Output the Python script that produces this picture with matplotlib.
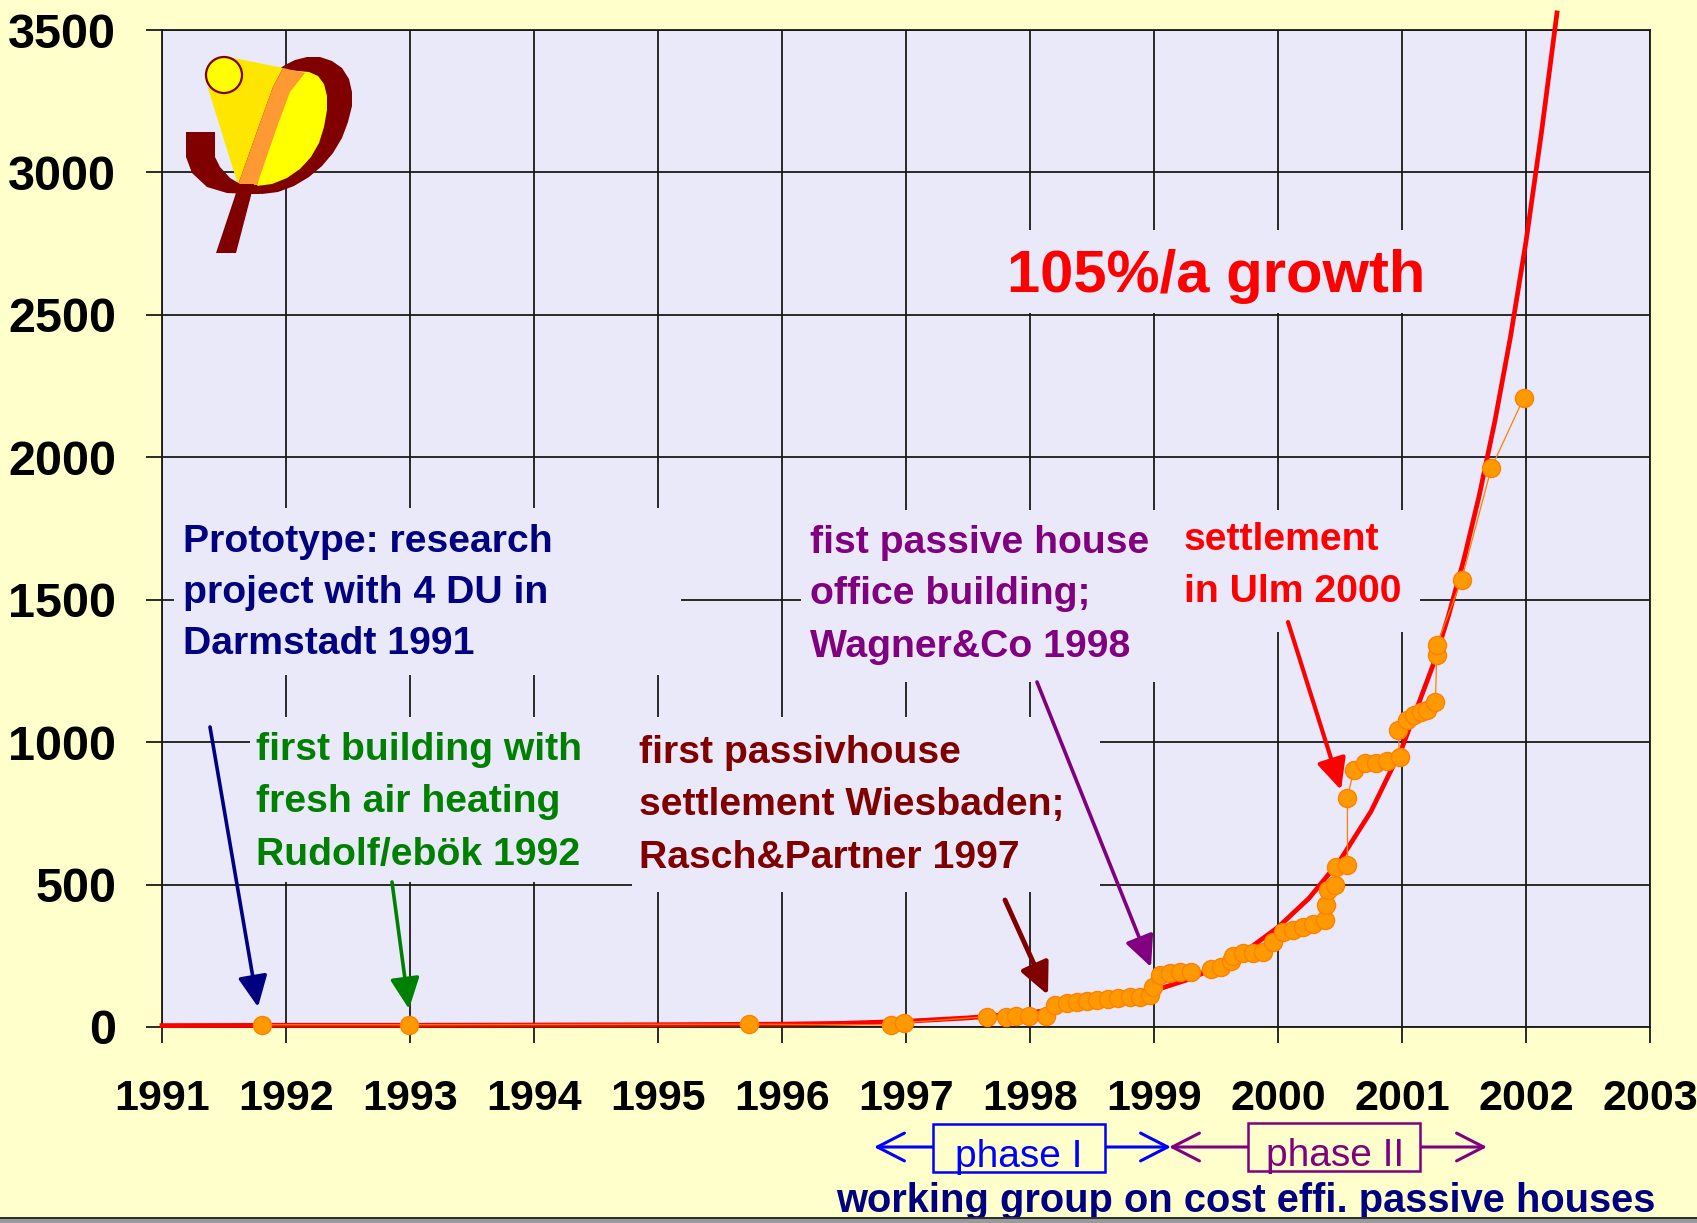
import matplotlib
matplotlib.use('Agg')
import matplotlib.pyplot as plt
from matplotlib.transforms import Affine2D
from matplotlib.patches import Rectangle, Polygon, Circle

# ---------------- data ----------------
x_ticks = list(range(1991, 2004))
y_ticks = list(range(0, 3501, 500))

# red growth curve
curve_years = [1991.0, 1992.0, 1993.0, 1994.0, 1995.0, 1996.0, 1996.5, 1997.0, 1997.5,
               1998.0, 1998.5, 1999.0, 1999.25, 1999.5, 1999.75, 2000.0, 2000.25, 2000.5,
               2000.75, 2001.0, 2001.25, 2001.375, 2001.5, 2001.625, 2001.75, 2001.875,
               2002.0, 2002.125, 2002.25]
curve_vals = [5, 6, 6, 7, 8, 10, 13, 20, 32,
              50, 80, 128, 163, 208, 270, 350, 452, 585,
              757, 980, 1270, 1444, 1643, 1870, 2129, 2423,
              2757, 3141, 3560]

# cumulative number of passive houses (orange points)
pt_years = [1991.81, 1992.99, 1995.73, 1996.88, 1996.98,
            1997.65, 1997.81, 1997.89, 1997.99, 1998.13,
            1998.20, 1998.30, 1998.38, 1998.46, 1998.54, 1998.63, 1998.71, 1998.81, 1998.89, 1998.97,
            1998.99, 1999.05, 1999.13, 1999.21, 1999.30, 1999.46, 1999.54, 1999.62, 1999.64, 1999.72,
            1999.80, 1999.88,
            1999.96, 2000.04, 2000.12, 2000.20, 2000.28, 2000.38, 2000.39, 2000.40, 2000.46, 2000.47,
            2000.56,
            2000.56, 2000.61, 2000.70, 2000.79, 2000.88, 2000.98,
            2000.97, 2001.04, 2001.10, 2001.15, 2001.20, 2001.27,
            2001.28, 2001.28, 2001.48, 2001.72, 2001.98]
pt_vals = [8, 8, 10, 7, 15,
           36, 36, 37, 38, 37,
           77, 85, 89, 92, 95, 97, 101, 104, 106, 112,
           141, 183, 191, 194, 194, 203, 212, 230, 249, 259,
           261, 264,
           300, 335, 340, 351, 362, 376, 428, 481, 500, 563,
           569,
           803, 902, 926, 928, 935, 949,
           1043, 1077, 1095, 1106, 1113, 1142,
           1306, 1341, 1569, 1962, 2207]

# ---------------- style ----------------
plt.rcParams['font.family'] = ['Liberation Sans', 'DejaVu Sans']
FIG_BG = '#FFFFCC'
AX_BG = '#E9E9FA'
GRID = '#1a1a1a'

W, H = 1697, 1223
fig = plt.figure(figsize=(W / 100, H / 100), dpi=100, facecolor=FIG_BG)
ax = fig.add_axes([162 / W, 1 - 1027 / H, (1650 - 162) / W, (1027 - 30) / H])
ax.set_facecolor(AX_BG)

# pixel transform (origin top-left, y down)
pxT = Affine2D().scale(1 / W, -1 / H).translate(0, 1) + fig.transFigure

ax.set_xlim(1991, 2003)
ax.set_ylim(0, 3500)
ax.set_xticks(x_ticks)
ax.set_xticklabels([str(v) for v in x_ticks])
ax.set_yticks(y_ticks)
ax.set_yticklabels([str(v) for v in y_ticks])
ax.grid(True, color=GRID, lw=1.3)
ax.set_axisbelow(True)
for s in ax.spines.values():
    s.set_color(GRID)
    s.set_linewidth(1.3)
ax.tick_params(direction='out', length=11.5, width=1.3, color=GRID)
ax.tick_params(axis='y', pad=21.5, labelsize=35)
ax.tick_params(axis='x', pad=26, labelsize=31)
for lbl in ax.get_xticklabels() + ax.get_yticklabels():
    lbl.set_fontweight('bold')

# boxes that mask the grid behind the annotation texts
boxes = [(174, 508, 681, 675), (250, 717, 632, 882), (632, 717, 1100, 892),
         (801, 510, 1175, 682), (1175, 510, 1420, 632), (995, 230, 1440, 313)]
for x0, y0, x1, y1 in boxes:
    ax.add_patch(Rectangle((x0, y1), x1 - x0, y0 - y1, transform=pxT,
                           facecolor=AX_BG, edgecolor='none', zorder=1))

# curves
ax.plot(curve_years, curve_vals, color='#FF0000', lw=3.4, zorder=3, clip_on=False)
ax.plot(pt_years, pt_vals, '-o', color='#FF8000', lw=0.9, ms=13, mfc='#FF9900',
        mec='#FF8000', mew=1.0, zorder=4, clip_on=False)


def block(x, baselines, lines, color, size=28.2):
    for b, s in zip(baselines, lines):
        ax.text(x, b, s, transform=pxT, color=color, fontsize=size, fontweight='bold',
                ha='left', va='baseline', zorder=6)


block(183, [552, 603, 654], ['Prototype: research', 'project with 4 DU in', 'Darmstadt 1991'], '#000080')
block(256, [760, 812, 865], ['first building with', 'fresh air heating', 'Rudolf/ebök 1992'], '#008000')
block(639, [763, 815, 868], ['first passivhouse', 'settlement Wiesbaden;', 'Rasch&Partner 1997'], '#800000')
block(810, [553, 604, 657], ['fist passive house', 'office building;', 'Wagner&Co 1998'], '#800080')
block(1184, [550, 602], ['settlement', 'in Ulm 2000'], '#FF0000')
block(1007, [292], ['105%/a growth'], '#FF0000', size=43)


def arrow(start, tip, color, lw=2.6):
    ax.annotate('', xy=tip, xytext=start, xycoords=pxT, textcoords=pxT,
                arrowprops=dict(arrowstyle='-|>,head_length=0.95,head_width=0.45',
                                mutation_scale=20, lw=lw, color=color,
                                shrinkA=0, shrinkB=0), zorder=7, annotation_clip=False)


arrow((210, 727), (258, 1007), '#000080')
arrow((392, 882), (409, 1009), '#008000')
arrow((1005, 900), (1048, 995), '#800000', lw=3.5)
arrow((1037, 682), (1151, 967), '#800080')
arrow((1288, 622), (1341, 790), '#FF0000', lw=3.0)

# ---------------- logo ----------------
def poly(pts, color, z):
    ax.add_patch(Polygon(pts, closed=True, facecolor=color, edgecolor='none',
                         transform=pxT, zorder=z, clip_on=False))


DR = '#800000'
poly([(235, 188), (248, 192), (262, 194), (278, 192), (294, 186), (309, 177), (322, 166),
      (333, 153), (342, 138), (348, 122), (352, 106), (352, 92), (349, 79), (342, 68),
      (332, 61), (320, 57), (307, 57), (295, 60), (285, 65), (276, 71)], DR, 8)
poly([(257, 186), (272, 184), (287, 178), (300, 169), (311, 157), (319, 143), (324, 127),
      (327, 110), (327, 96), (324, 84), (318, 76), (309, 72), (298, 71), (288, 70),
      (280, 80), (268, 115)], '#FFFF00', 8.1)
poly([(224, 56), (283, 68), (273, 87), (260, 123), (238, 185), (208, 88)], '#FFE600', 8.2)
poly([(283, 68), (305, 73), (290, 92), (277, 127), (257, 185), (238, 185), (260, 123),
      (273, 87)], '#FF9933', 8.3)
poly([(186, 132), (215, 132), (215, 157), (220, 167), (230, 178), (240, 184), (260, 186),
      (260, 194), (250, 194), (227, 193), (207, 187), (192, 173), (186, 157)], DR, 8.4)
poly([(239, 184), (254, 184), (236, 253), (216, 253)], DR, 8.4)
ax.add_patch(Circle((224, 75), 18, transform=pxT, facecolor='#FFFF00', edgecolor=DR,
                    lw=1.6, zorder=8.5, clip_on=False))

# ---------------- bottom annotations ----------------
def hline_arrow(start, tip, color):
    ax.annotate('', xy=tip, xytext=start, xycoords=pxT, textcoords=pxT,
                arrowprops=dict(arrowstyle='->,head_length=0.78,head_width=0.4',
                                mutation_scale=25, lw=2.2, color=color,
                                shrinkA=0, shrinkB=0), annotation_clip=False)


hline_arrow((933, 1147), (874, 1147), '#0000FF')
hline_arrow((1105, 1147), (1171, 1147), '#0000FF')
hline_arrow((1248, 1147), (1169, 1147), '#800080')
hline_arrow((1420, 1147), (1487, 1147), '#800080')
fig.add_artist(Rectangle((933, 1172), 172, -48, transform=pxT, facecolor=FIG_BG,
                         edgecolor='#0000FF', lw=1.8))
fig.add_artist(Rectangle((1248, 1171), 172, -48, transform=pxT, facecolor=FIG_BG,
                         edgecolor='#800080', lw=1.8))
fig.text(1019, 1167, 'phase I', transform=pxT, color='#0000FF', fontsize=28,
         ha='center', va='baseline')
fig.text(1335, 1166, 'phase II', transform=pxT, color='#800080', fontsize=28,
         ha='center', va='baseline')
fig.text(836, 1212, 'working group on cost effi. passive houses', transform=pxT,
         color='#000080', fontsize=28.7, fontweight='bold', ha='left', va='baseline')

# window border at the bottom
fig.add_artist(Rectangle((0, 1223), W, -5, transform=pxT, facecolor='#9a9a9a',
                         edgecolor='none', zorder=20))
fig.add_artist(Rectangle((0, 1219), W, -2, transform=pxT, facecolor='#303030',
                         edgecolor='none', zorder=21))

fig.savefig('out.png', dpi=100, facecolor=FIG_BG)
